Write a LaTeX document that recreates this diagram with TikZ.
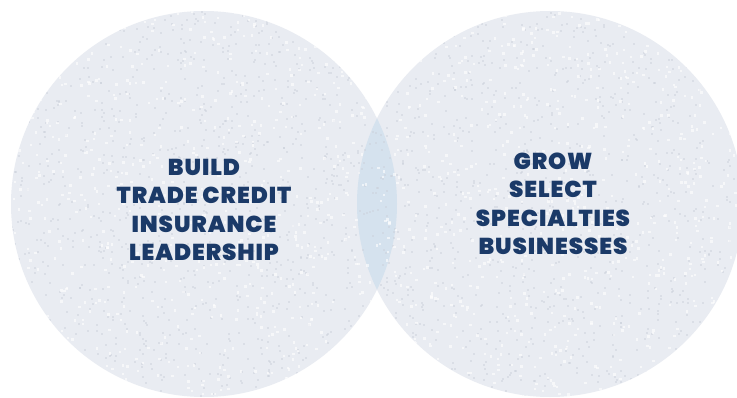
\documentclass[tikz,border=0pt]{standalone}
\usepackage{fontspec}
\setsansfont{Poppins}[BoldFont={Poppins Black}]
\definecolor{circfill}{HTML}{E9ECF2}
\definecolor{lensfill}{HTML}{D5E2EE}
\definecolor{navy}{HTML}{1B3A68}
\definecolor{specdark}{HTML}{CCD2DC}
\begin{document}
\begin{tikzpicture}[x=1pt,y=-1pt,
  venn/.style={circle, minimum size=386pt, inner sep=0pt, fill=circfill},
  label/.style={align=center, text=navy, inner sep=0pt,
    font=\sffamily\bfseries\fontsize{23}{28.5}\selectfont\addfontfeatures{LetterSpace=4}}]
\useasboundingbox (0,0) rectangle (737,398);
\fill[white] (0,0) rectangle (737,398);
\node[venn] (L) at (204,204) {};
\node[venn] (R) at (550,204) {};
\begin{scope}
  \clip (204,204) circle (193pt);
  \fill[lensfill] (550,204) circle (193pt);
\end{scope}
\begin{scope}
  \clip (204,204) circle (193pt) (550,204) circle (193pt);
  \pgfmathsetseed{7}
  \foreach \i in {1,...,2200} {
    \pgfmathsetmacro\xx{rnd*737}
    \pgfmathsetmacro\yy{rnd*398}
    \fill[specdark, opacity=0.5] (\xx,\yy) rectangle ++(2,2);
  }
  \foreach \i in {1,...,1500} {
    \pgfmathsetmacro\xx{rnd*737}
    \pgfmathsetmacro\yy{rnd*398}
    \fill[white, opacity=0.6] (\xx,\yy) rectangle ++(2.5,2.5);
  }
\end{scope}
\node[label] (T1) at (204,210) {BUILD\\TRADE CREDIT\\INSURANCE\\LEADERSHIP};
\node[label] (T2) at (553,204) {GROW\\SELECT\\SPECIALTIES\\BUSINESSES};
\end{tikzpicture}
\end{document}
